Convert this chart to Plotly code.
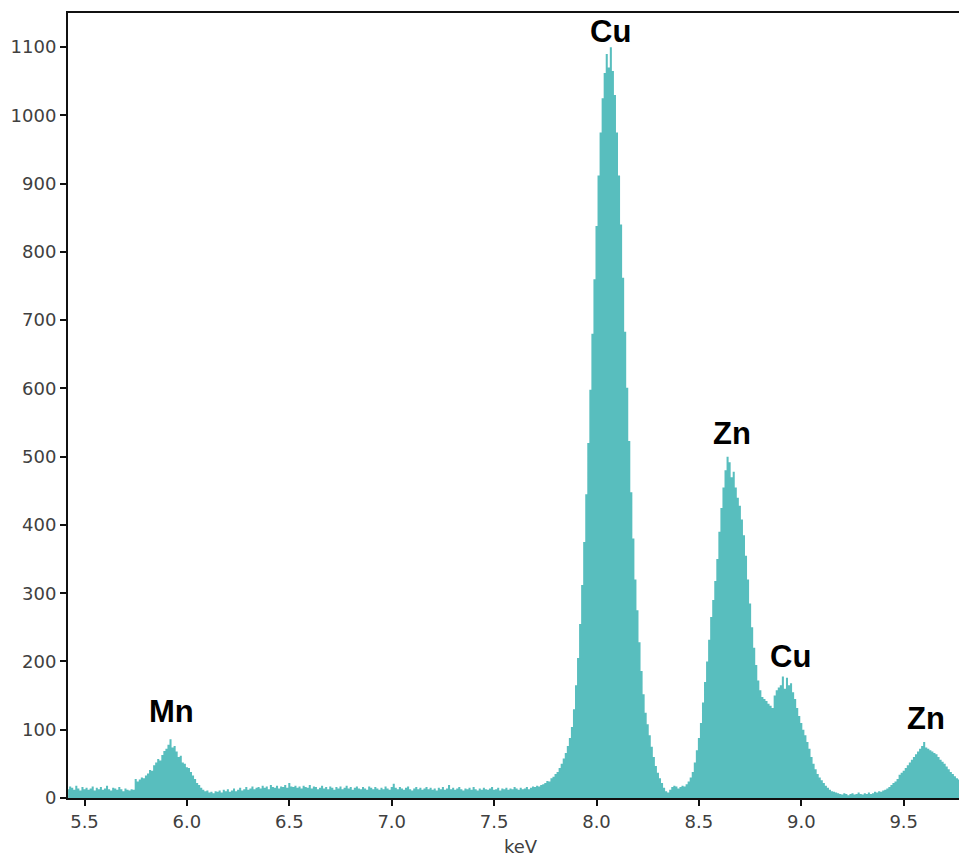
import plotly.graph_objects as go

# Spectrum: counts per 0.01 keV channel, starting at 5.42 keV
E_START = 5.42
E_STEP = 0.01

bg_low = [13, 17, 15, 12, 18, 14, 11, 16, 13, 15,
          12, 14, 17, 11, 15, 13, 16, 12, 14, 18,
          13, 11, 15, 14, 12, 16, 13, 10, 14, 12,
          11, 13, 12]                                   # 5.42 - 5.74
mn_ka = [28, 24, 27, 30, 29, 33, 36, 41, 40, 48,
         52, 57, 55, 63, 69, 72, 78, 86, 74, 76,
         68, 60, 62, 52, 50, 45, 44, 38, 33, 28,
         22, 19, 15, 12, 10, 11, 8, 9, 7, 10]          # 5.75 - 6.14
bg_mid = [9, 11, 8, 12, 10, 13, 9, 11, 14, 10,
          12, 15, 11, 13, 16, 12, 14, 17, 13, 15,
          16, 14, 18, 15, 17, 13, 19, 16, 15, 18,
          14, 17, 16, 19, 15, 22, 17, 16, 18, 15,
          17, 14, 18, 16, 15, 19, 14, 17, 16, 13,
          15, 18, 14, 16, 13, 17, 15, 12, 16, 14,
          17, 13, 15, 18, 14, 16, 12, 15, 17, 14,
          13, 16, 14, 12, 17, 15, 13, 16, 14, 12,
          15, 13, 17, 14, 12, 16, 21, 15, 13, 16,
          14, 12, 15, 17, 13, 11, 14, 16, 13, 15,
          12, 14, 16, 13, 15, 12, 14, 11, 15, 13,
          16, 12, 14, 19, 13, 15, 12, 14, 16, 13,
          11, 14, 13, 15, 12, 16, 13, 11, 14, 12,
          15, 13, 12, 14, 16, 12, 13, 15, 11, 14,
          13, 15, 12, 14, 13, 16, 14, 12, 15, 13,
          14, 16, 13, 15, 17, 16, 18, 17, 19, 20]      # 6.15 - 7.74
cu_ka = [22, 25, 24, 29, 31, 35, 38, 44, 50, 58,
         66, 76, 88, 104, 130, 165, 205, 255, 312, 375,
         445, 520, 598, 680, 760, 838, 912, 975, 1025, 1062,
         1090, 1070, 1100, 1065, 1030, 975, 912, 840, 762, 683,
         601, 523, 448, 380, 320, 275, 228, 186, 152, 125,
         108, 92, 75, 60, 47, 37, 29, 22, 15, 10,
         8, 12, 16]                                     # 7.75 - 8.37
zn_ka_cu_kb = [18, 17, 14, 16, 18, 17, 20, 24, 30, 38,
               52, 70, 88, 110, 140, 170, 200, 232, 265, 290,
               318, 350, 390, 425, 455, 480, 500, 492, 470, 478,
               455, 440, 428, 408, 385, 355, 320, 285, 250, 220,
               195, 172, 158, 148, 145, 142, 138, 135, 132, 150,
               158, 162, 165, 178, 160, 176, 165, 168, 155, 145,
               132, 120, 110, 100, 92, 82, 72, 60, 50, 42,
               35, 30, 26, 22, 18, 15, 12, 10, 9, 8]    # 8.38 - 9.17
bg_high = [7, 6, 5, 7, 6, 4, 6, 7, 5, 6,
           8, 6, 5, 7, 6, 8, 6, 7, 9, 8,
           10, 9, 11, 12, 14]                           # 9.18 - 9.42
zn_kb = [16, 19, 22, 24, 28, 34, 37, 40, 44, 48,
         52, 56, 60, 64, 68, 72, 76, 82, 74, 72,
         70, 68, 66, 64, 60, 56, 53, 50, 46, 42,
         38, 35, 32, 29, 27]                            # 9.43 - 9.77

counts = bg_low + mn_ka + bg_mid + cu_ka + zn_ka_cu_kb + bg_high + zn_kb
energy = [round(E_START + E_STEP * i, 2) for i in range(len(counts))]

x_ticks = [5.5, 6.0, 6.5, 7.0, 7.5, 8.0, 8.5, 9.0, 9.5]
y_ticks = [0, 100, 200, 300, 400, 500, 600, 700, 800, 900, 1000, 1100]

labels = ["Mn", "Cu", "Zn", "Cu", "Zn"]
label_x = [5.927, 8.066, 8.662, 8.945, 9.609]
label_y = [126, 1123, 534, 207, 117]

FILL = "#58bebe"
TICK_COLOR = "#404040"

fig = go.Figure()
fig.add_trace(go.Scatter(
    x=energy, y=counts, mode="lines", line=dict(shape="hvh", width=0, color=FILL),
    fill="tozeroy", fillcolor=FILL, hoverinfo="x+y", showlegend=False,
))

for t, xx, yy in zip(labels, label_x, label_y):
    fig.add_annotation(x=xx, y=yy, xref="x", yref="y", text="<b>" + t + "</b>",
                       showarrow=False,
                       font=dict(family="Liberation Sans", size=31, color="#000000"),
                       xanchor="center", yanchor="middle")

fig.add_annotation(x=0.5084, y=-0.0624, xref="paper", yref="paper", text="keV",
                   showarrow=False, xanchor="center", yanchor="middle",
                   font=dict(family="DejaVu Sans", size=18, color=TICK_COLOR))

fig.update_layout(
    width=959, height=861,
    margin=dict(l=68, r=0, t=13, b=63),
    paper_bgcolor="white", plot_bgcolor="white",
    font=dict(family="DejaVu Sans", size=18, color=TICK_COLOR),
)
fig.update_xaxes(
    range=[5.4194, 9.77], tickmode="array", tickvals=x_ticks,
    ticktext=[f"{v:.1f}" for v in x_ticks],
    showgrid=False, zeroline=False, showline=True, linecolor="#111111", linewidth=2,
    mirror=True, ticks="outside", ticklen=6, tickwidth=2, tickcolor="#111111",
    tickfont=dict(family="DejaVu Sans", size=18, color=TICK_COLOR),
)
fig.update_yaxes(
    range=[0, 1150], tickmode="array", tickvals=y_ticks,
    showgrid=False, zeroline=False, showline=True, linecolor="#111111", linewidth=2,
    ticks="outside", ticklen=6, tickwidth=2, tickcolor="#111111",
    tickfont=dict(family="DejaVu Sans", size=18, color=TICK_COLOR),
)

fig.write_html("out.html")
